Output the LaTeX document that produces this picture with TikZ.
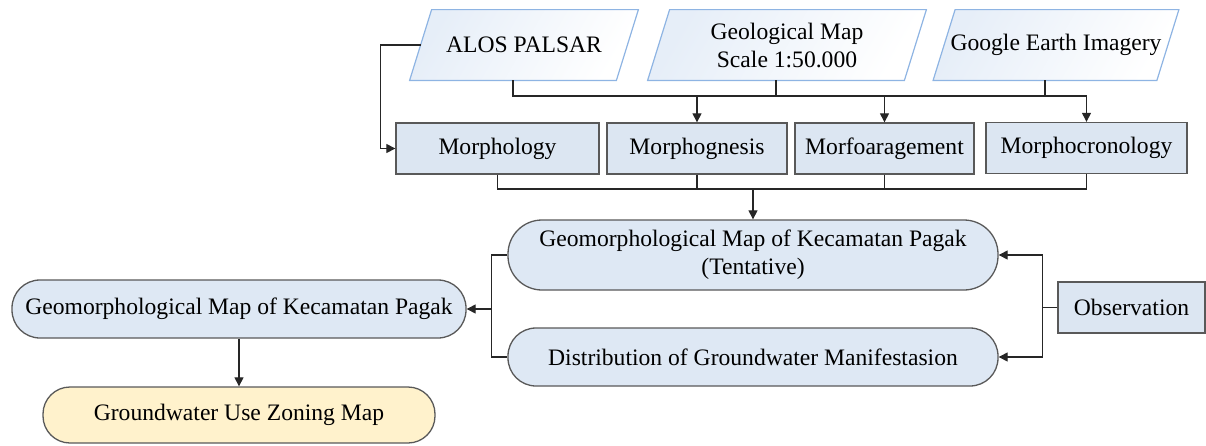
\documentclass[tikz,border=0pt]{standalone}
\usepackage{fontspec}
\setmainfont{Liberation Serif}
\usetikzlibrary{arrows.meta,calc}
\definecolor{boxfill}{HTML}{DCE6F2}
\definecolor{roundfill}{HTML}{DEE8F4}
\definecolor{yelfill}{HTML}{FFF2CC}
\definecolor{boxline}{HTML}{595959}
\definecolor{paraline}{HTML}{8EB4E3}
\definecolor{parafill}{HTML}{E6EEF8}
\tikzset{
  every node/.style={font=\fontsize{11.8}{14}\selectfont, inner sep=0pt, align=center},
  procbox/.style={draw=boxline, line width=0.65pt, fill=boxfill, minimum height=25.5pt},
  roundbox/.style={draw=boxline, line width=0.65pt, fill=roundfill},
  databox/.style={minimum height=35pt},
  parashape/.style={draw=paraline, line width=0.6pt, left color=parafill, right color=white, shading angle=60},
  conn/.style={draw=black!85, line width=0.55pt},
  arr/.style={conn, -{Triangle[length=4.5pt,width=4.5pt]}}
}
\begin{document}
\begin{tikzpicture}[x=0.5pt,y=-0.5pt]
\useasboundingbox (0,0) rectangle (1206,445);
% data inputs
\node[databox, minimum width=103pt] (alos) at (524,45) {};
\node[databox, minimum width=128pt] (geo) at (787,45) {};
\node[databox, minimum width=111.5pt] (google) at (1056,45) {};
\path[parashape] ([xshift=-5.5pt]alos.south west) -- ([xshift=-5.5pt]alos.south east) -- ([xshift=5.5pt]alos.north east) -- ([xshift=5.5pt]alos.north west) -- cycle;
\path[parashape] ([xshift=-5.5pt]geo.south west) -- ([xshift=-5.5pt]geo.south east) -- ([xshift=5.5pt]geo.north east) -- ([xshift=5.5pt]geo.north west) -- cycle;
\path[parashape] ([xshift=-5.5pt]google.south west) -- ([xshift=-5.5pt]google.south east) -- ([xshift=5.5pt]google.north east) -- ([xshift=5.5pt]google.north west) -- cycle;
\node (alost) at (alos) {ALOS PALSAR};
\node (geot) at (geo) {Geological Map\\Scale 1:50.000};
\node (googlet) at (google) {Google Earth Imagery};
% process boxes
\node[procbox, minimum width=101.5pt] (morph) at (497.5,148.5) {Morphology};
\node[procbox, minimum width=90pt] (morphog) at (697,148.5) {Morphognesis};
\node[procbox, minimum width=89.5pt] (morfo) at (884.5,148.5) {Morfoaragement};
\node[procbox, minimum width=100.5pt] (morphoc) at (1086.5,148) {Morphocronology};
% rounded nodes
\node[roundbox, minimum width=245pt, minimum height=35pt, rounded corners=17pt] (tent) at (753,255) {Geomorphological Map of Kecamatan Pagak\\(Tentative)};
\node[roundbox, minimum width=245pt, minimum height=29pt, rounded corners=14pt] (dist) at (753,357) {Distribution of Groundwater Manifestasion};
\node[procbox, minimum width=73.5pt] (obs) at (1131.5,307.5) {Observation};
\node[roundbox, minimum width=227pt, minimum height=29pt, rounded corners=14pt] (final) at (239,309) {Geomorphological Map of Kecamatan Pagak};
\node[draw=boxline, line width=0.65pt, fill=yelfill, minimum width=196pt, minimum height=28pt, rounded corners=13.5pt] (gw) at (239,415) {Groundwater Use Zoning Map};
% bus coordinates
\coordinate (bus1) at (0,96);
\coordinate (bus2) at (0,189);
% connectors from inputs
\draw[arr] (alos.west) -- ++(-40,0) |- (morph.west);
\draw[arr] ([xshift=-5.5pt]alos.south) |- (morphoc.north |- bus1) -- (morphoc.north);
\draw[conn] ([xshift=-5.5pt]geo.south) -- ([xshift=-5.5pt]geo.south |- bus1);
\draw[conn] ([xshift=-5.5pt]google.south) -- ([xshift=-5.5pt]google.south |- bus1);
\draw[arr] (morphog.north |- bus1) -- (morphog.north);
\draw[arr] (morfo.north |- bus1) -- (morfo.north);
% bottom bus
\draw[conn] (morph.south) |- (morphoc.south |- bus2) -- (morphoc.south);
\draw[conn] (morphog.south) -- (morphog.south |- bus2);
\draw[conn] (morfo.south) -- (morfo.south |- bus2);
\draw[arr] (tent.north |- bus2) -- (tent.north);
% observation
\draw[conn] (obs.west) -- ++(-15,0) coordinate (oj);
\draw[arr] (oj) |- (tent.east);
\draw[arr] (oj) |- (dist.east);
% left join
\draw[conn] (tent.west) -- ++(-16,0) coordinate (lj) |- (dist.west);
\draw[arr] (lj |- final.east) -- (final.east);
\draw[arr] (final.south) -- (gw.north);
\end{tikzpicture}
\end{document}
